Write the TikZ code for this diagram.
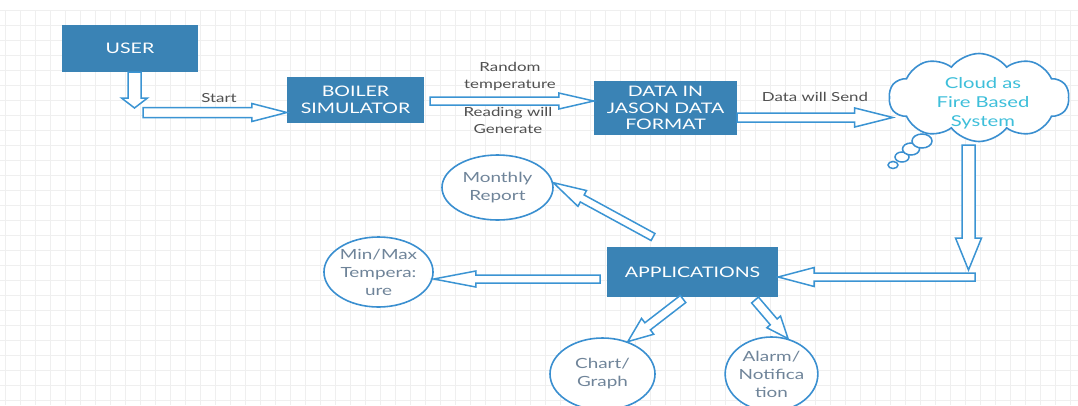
\documentclass[tikz,border=0pt]{standalone}
\usepackage{fontspec}
\setmainfont{Lato}[FakeStretch=1.35]
\usetikzlibrary{shapes.geometric,shapes.symbols,calc}
\definecolor{boxblue}{HTML}{3A83B5}
\definecolor{arrblue}{HTML}{3B94D3}
\definecolor{ellblue}{HTML}{3A8FD0}
\definecolor{elltext}{HTML}{6F8499}
\definecolor{lbltext}{HTML}{505050}
\definecolor{cloudtext}{HTML}{3EBFDA}
\definecolor{gridc}{HTML}{EFEFEF}
\tikzset{
  box/.style={fill=boxblue, text=white, align=center, font=\fontsize{14.5}{16.5}\selectfont, inner sep=0pt},
  bubble/.style={ellipse, draw=ellblue, line width=1.6pt, fill=white, text=elltext, align=center, font=\fontsize{14}{18}\selectfont, inner sep=0pt},
  blockarrow/.style={draw=arrblue, fill=white, line width=1.5pt, line join=miter},
  lbl/.style={text=lbltext, align=center, font=\fontsize{12.5}{17}\selectfont, inner sep=0pt},
  gridline/.style={draw=gridc, line width=0.6pt},
  puff/.style={draw=ellblue, line width=1.5pt, fill=white},
}
\newcommand\barrow[5]{\draw[blockarrow] let \p1=(#1), \p2=(#2), \n1={atan2(\y2-\y1,\x2-\x1)}, \n2={veclen(\x2-\x1,\y2-\y1)} in [shift={(\p1)}, rotate=\n1] (0,#3) -- ({\n2-#5},#3) -- ({\n2-#5},#4) -- (\n2,0) -- ({\n2-#5},-#4) -- ({\n2-#5},-#3) -- (0,-#3) -- cycle;}
\begin{document}
\begin{tikzpicture}[x=1pt,y=-1pt]
\useasboundingbox (0,0) rectangle (1078,405);
\fill[white] (0,0) rectangle (1078,405);
% grid
\foreach \i in {5,20,...,1078} \draw[gridline] (\i,10) -- (\i,405);
\foreach \j in {10,25,...,405} \draw[gridline] (0,\j) -- (1078,\j);

% boxes
\node[box, minimum width=136pt, minimum height=47pt] (user) at (130,48.5) {USER};
\node[box, minimum width=137pt, minimum height=46pt] (boiler) at (355.5,100) {BOILER\\SIMULATOR};
\node[box, minimum width=143pt, minimum height=54pt] (data) at (665.5,108) {DATA IN\\JASON DATA\\FORMAT};
\node[box, minimum width=171pt, minimum height=50pt] (apps) at (692.5,272) {APPLICATIONS};

% cloud
\draw[puff] (893,165) ellipse [x radius=5, y radius=3.5];
\draw[puff] (902,157) ellipse [x radius=7, y radius=5];
\draw[puff] (911,149) ellipse [x radius=8.5, y radius=6];
\draw[puff] (922,141) ellipse [x radius=10, y radius=7];
\node[cloud, cloud puffs=10, cloud puff arc=105, cloud ignores aspect, draw=ellblue, line width=1.6pt, fill=white,
      minimum width=180pt, minimum height=88pt, inner sep=0pt] (cloud) at (979,97.5) {};
\node[text=cloudtext, align=center, font=\fontsize{15}{19}\selectfont, inner sep=0pt] (cloudtxt) at (983,103) {Cloud as\\Fire Based\\System};

% ellipses
\node[bubble, minimum width=111pt, minimum height=65pt] (monthly) at (497.5,187.5) {Monthly\\Report};
\node[bubble, minimum width=103pt, minimum height=70pt] (minmax) at (378.5,272) {Min/Max\\Tempera:\\ure};
\node[bubble, minimum width=105pt, minimum height=72pt] (chart) at (602.5,374) {Chart/\\Graph};
\node[bubble, minimum width=87pt, minimum height=74pt] (alarm) at (771.5,374) {Alarm/\\Notifica\\tion};

% labels
\node[lbl] (lstart) at (219,98) {Start};
\node[lbl] (lrand) at (510,76) {Random\\temperature};
\node[lbl] (lread) at (508,120.5) {Reading will\\Generate};
\node[lbl] (lsend) at (815,97) {Data will Send};

% free ends
\coordinate (a1e) at (134.5,108);
\coordinate (a2s) at (143,112.5);
\coordinate (a3s) at (430,101);
\coordinate (a4s) at (737,117.5);
\coordinate (a5s) at (968.5,145);
\coordinate (a5e) at (968.5,270);
\coordinate (a6s) at (975,277);
\coordinate (a7s) at (600,279);
\coordinate (a8s) at (653,237);
\coordinate (a9s) at (683,299);
\coordinate (a10s) at (755,300);

% arrows
\barrow{$(user.south)+(4.5,0)$}{a1e}{6.5}{13}{10}
\barrow{a2s}{boiler.west |- a2s}{5}{9}{35}
\barrow{a3s}{data.west |- a3s}{4}{8}{35}
\barrow{a4s}{$(cloud.west |- a4s)+(4,0)$}{4.5}{9.5}{38}
\barrow{a5s}{a5e}{6.5}{13}{32}
\barrow{a6s}{apps.east |- a6s}{4}{9.5}{36}
\barrow{a7s}{minmax.east |- a7s}{4}{8}{42}
\barrow{a8s}{monthly.5}{4}{9}{33}
\barrow{a9s}{chart.52}{4.5}{10}{25}
\barrow{a10s}{alarm.65}{4.5}{9}{22}
\end{tikzpicture}
\end{document}
